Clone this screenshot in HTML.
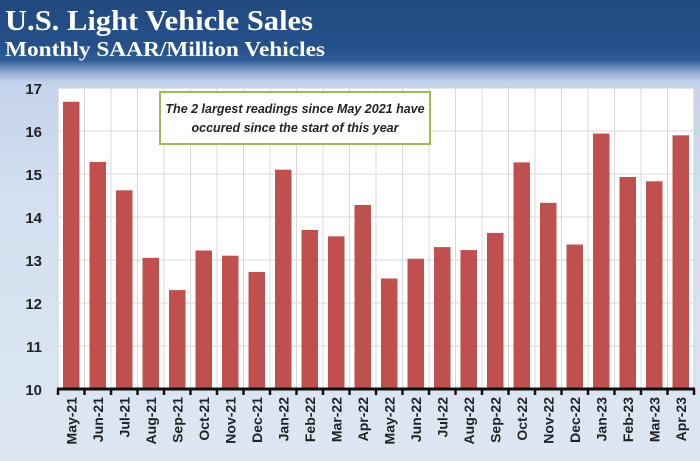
<!DOCTYPE html>
<html><head><style>
body{margin:0;width:700px;height:461px;overflow:hidden;font-family:"Liberation Sans",sans-serif;}
.bg{position:absolute;left:0;top:0;width:700px;height:461px;background:linear-gradient(#21497e 0px,#24508a 45px,#2d5b95 60px,#8fa9d0 72px,#c3d3ea 82px,#d4e0f0 200px,#dde7f3 461px);}
</style></head><body>
<div class="bg"></div>
<svg width="700" height="461" style="position:absolute;left:0;top:0" xmlns="http://www.w3.org/2000/svg">
<text x="5" y="30" font-family="Liberation Serif" font-weight="bold" font-size="29" fill="#fff" textLength="308" lengthAdjust="spacingAndGlyphs">U.S. Light Vehicle Sales</text>
<text x="5" y="56" font-family="Liberation Serif" font-weight="bold" font-size="21" fill="#fff" textLength="320" lengthAdjust="spacingAndGlyphs">Monthly SAAR/Million Vehicles</text>
<rect x="58" y="88" width="636" height="301" fill="#fff" stroke="#d0d0d0"/>
<g stroke="#d8d8d8" stroke-width="1">
<line x1="58" x2="694" y1="131" y2="131"/><line x1="58" x2="694" y1="174" y2="174"/><line x1="58" x2="694" y1="217" y2="217"/><line x1="58" x2="694" y1="260" y2="260"/><line x1="58" x2="694" y1="303" y2="303"/><line x1="58" x2="694" y1="346" y2="346"/>
</g>
<g id="v" stroke="#d8d8d8"></g>
<g id="bars" fill="#c0504d"></g>
<g font-family="Liberation Sans" font-weight="bold" font-size="15" fill="#222" text-anchor="end">
<text x="42" y="94">17</text><text x="42" y="137">16</text><text x="42" y="180">15</text><text x="42" y="223">14</text><text x="42" y="266">13</text><text x="42" y="309">12</text><text x="42" y="352">11</text><text x="42" y="395">10</text>
</g>
<line x1="57" x2="695" y1="389" y2="389" stroke="#111" stroke-width="3"/>
<g id="lab" font-family="Liberation Sans" font-weight="bold" font-size="14" fill="#222"></g>
<rect x="160" y="92" width="270" height="52" fill="#fff" stroke="#9bbb59" stroke-width="2"/>
<text x="295" y="113" text-anchor="middle" font-family="Liberation Sans" font-style="italic" font-weight="bold" font-size="12.5" fill="#222">The 2 largest readings since May 2021 have</text>
<text x="295" y="132" text-anchor="middle" font-family="Liberation Sans" font-style="italic" font-weight="bold" font-size="12.5" fill="#222">occured since the start of this year</text>
</svg>
<script>
var vals=[16.68,15.28,14.62,13.05,12.3,13.22,13.1,12.72,15.1,13.7,13.55,14.28,12.57,13.03,13.3,13.23,13.63,15.27,14.33,13.36,15.94,14.93,14.83,15.9];
var labs=["May-21","Jun-21","Jul-21","Aug-21","Sep-21","Oct-21","Nov-21","Dec-21","Jan-22","Feb-22","Mar-22","Apr-22","May-22","Jun-22","Jul-22","Aug-22","Sep-22","Oct-22","Nov-22","Dec-22","Jan-23","Feb-23","Mar-23","Apr-23"];
var ns="http://www.w3.org/2000/svg",w=26.5;
var b=document.getElementById("bars"),v=document.getElementById("v"),l=document.getElementById("lab"),svg=document.querySelector("svg");
for(var i=0;i<24;i++){var x0=58+i*w;
if(i>0){var ln=document.createElementNS(ns,"line");ln.setAttribute("x1",x0);ln.setAttribute("x2",x0);ln.setAttribute("y1",88);ln.setAttribute("y2",389);v.appendChild(ln);}
var r=document.createElementNS(ns,"rect");var y=389-(vals[i]-10)*43;r.setAttribute("x",x0+5);r.setAttribute("width",16.5);r.setAttribute("y",y);r.setAttribute("height",389-y);b.appendChild(r);
var t=document.createElementNS(ns,"text");var cx=x0+w/2+5;t.setAttribute("transform","translate("+cx+",397) rotate(-90)");t.setAttribute("text-anchor","end");t.textContent=labs[i];l.appendChild(t);}
for(var i=0;i<=24;i++){var tk=document.createElementNS(ns,"line");var x=58+i*w;tk.setAttribute("x1",x);tk.setAttribute("x2",x);tk.setAttribute("y1",389);tk.setAttribute("y2",395);tk.setAttribute("stroke","#111");tk.setAttribute("stroke-width","2.5");svg.appendChild(tk);}
</script>
</body></html>
